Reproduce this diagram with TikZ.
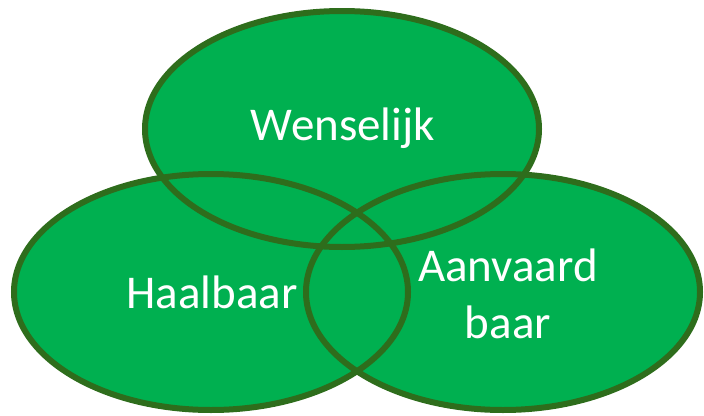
\documentclass[tikz,border=0pt]{standalone}
\usepackage{fontspec}
\setmainfont{Carlito}
\definecolor{vfill}{HTML}{00B050}
\definecolor{vline}{HTML}{2E6D1C}
\begin{document}
\begin{tikzpicture}[x=1pt,y=-1pt,
  lbl/.style={text=white,font=\fontsize{47}{57}\selectfont,align=center,inner sep=0pt},
  ring/.style={draw=vline,line width=6pt}]
\useasboundingbox (0,0) rectangle (704,415);
\fill[vfill] (342,129) ellipse [x radius=197,y radius=118];
\fill[vfill] (211,292) ellipse [x radius=197,y radius=118];
\fill[vfill] (503,292) ellipse [x radius=197,y radius=118];
\draw[ring] (342,129) ellipse [x radius=197,y radius=118];
\draw[ring] (211,292) ellipse [x radius=197,y radius=118];
\draw[ring] (503,292) ellipse [x radius=197,y radius=118];
\node[lbl,anchor=base] (w) at (343,140) {Wenselijk};
\node[lbl,anchor=base] (h) at (212,308) {Haalbaar};
\node[lbl,anchor=base] (a) at (508,338) {Aanvaard\\baar};
\end{tikzpicture}
\end{document}
